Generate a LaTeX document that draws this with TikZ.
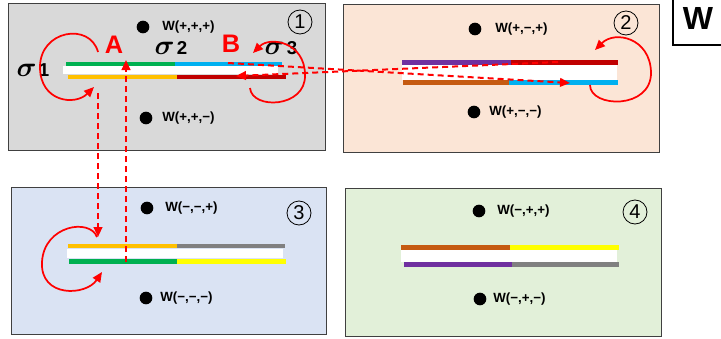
\documentclass[tikz,border=0pt]{standalone}
\usepackage{amsmath,amssymb}
\usepackage{fontspec}
\setmainfont{Liberation Sans}
\usepackage{tikz}
\usetikzlibrary{arrows.meta}
\usepackage{xcolor}
\definecolor{pnlone}{HTML}{D9D9D9}
\definecolor{pnltwo}{HTML}{FBE5D6}
\definecolor{pnlthree}{HTML}{DAE3F3}
\definecolor{pnlfour}{HTML}{E2F0D9}
\definecolor{bgreen}{HTML}{00B050}
\definecolor{bblue}{HTML}{00B0F0}
\definecolor{bgold}{HTML}{FFC000}
\definecolor{bdred}{HTML}{C00000}
\definecolor{bpurple}{HTML}{7030A0}
\definecolor{bbrown}{HTML}{C55A11}
\definecolor{bgray}{HTML}{808080}
\definecolor{byellow}{HTML}{FFFF00}
\newcommand{\sigmark}[1]{{\fontsize{20}{20}\selectfont$\boldsymbol{\sigma}$}\,{\bfseries\fontsize{14}{14}\selectfont #1}}

\begin{document}
\begin{tikzpicture}[x=0.75pt,y=0.75pt,yscale=-1,
  panel/.style={draw={rgb,255:red,64;green,64;blue,64},line width=0.75pt},
  jump/.style={draw=red,line width=1.5pt,dash pattern={on 4.5pt off 3pt},-{Triangle[length=7.5pt,width=6.5pt]}},
  swirl/.style={draw=red,line width=1.3pt,-{Triangle[length=7.5pt,width=6.5pt]}},
  dot/.style={circle,fill=black,inner sep=0pt,minimum size=9.5pt},
  wlbl/.style={anchor=west,inner sep=0.75pt,font=\bfseries\fontsize{10}{11}\selectfont},
  num/.style={circle,draw,line width=0.6pt,inner sep=0pt,minimum size=18pt,font=\fontsize{15}{15}\selectfont},
  ab/.style={inner sep=0.75pt,text=red,font=\bfseries\fontsize{19}{19}\selectfont}]
\useasboundingbox (0,0) rectangle (721,339);

%Shape: Rectangle
\draw [panel,fill=pnlone] (8,3) rectangle (325,150);
\draw [panel,fill=pnltwo] (343,4) rectangle (659,152);
\draw [panel,fill=pnlthree] (11,187) rectangle (326,334);
\draw [panel,fill=pnlfour] (345,188) rectangle (661,336);

%Straight Lines
\draw [line width=1.5pt] (673,0) -- (673,45) -- (721,45);
% Text Node
\draw (698,18) node (wtag) [inner sep=0.75pt] [font=\bfseries\fontsize{24}{24}\selectfont] {W};

%Shape: Bars 1
\fill [white] (63,66) rectangle (278,74);
\fill [bgreen] (66,62) rectangle (175,66);
\fill [bblue] (175,62) rectangle (282,66);
\fill [bgold] (68,75) rectangle (177,79);
\fill [bdred] (177,75) rectangle (286,79);
%Shape: Bars 2
\fill [white] (402,65) rectangle (617,80);
\fill [bpurple] (402,60) rectangle (511,65);
\fill [bdred] (511,60) rectangle (618,65);
\fill [bbrown] (403,80) rectangle (509,85);
\fill [bblue] (509,80) rectangle (618,85);
%Shape: Bars 3
\fill [white] (67,249) rectangle (283,258);
\fill [bgold] (68,244) rectangle (177,248);
\fill [bgray] (177,244) rectangle (285,248);
\fill [bgreen] (69,259) rectangle (177,264);
\fill [byellow] (177,259) rectangle (286,264);
%Shape: Bars 4
\fill [white] (401,250) rectangle (617,262);
\fill [bbrown] (401,245) rectangle (510,250);
\fill [byellow] (510,245) rectangle (619,250);
\fill [bpurple] (404,262) rectangle (512,267);
\fill [bgray] (512,262) rectangle (619,267);

%Shape: Circle
\node (d1a) [dot] at (143,27) {};
\node (d1b) [dot] at (146,118) {};
\node (d2a) [dot] at (475,29) {};
\node (d2b) [dot] at (474,112) {};
\node (d3a) [dot] at (147,208) {};
\node (d3b) [dot] at (146,298) {};
\node (d4a) [dot] at (479,211) {};
\node (d4b) [dot] at (480,299) {};

% Text Node
\draw (161,27) node (w1a) [wlbl] {W(+,+,+)};
\draw (161,118) node (w1b) [wlbl] {W(+,+,−)};
\draw (494,29) node (w2a) [wlbl] {W(+,−,+)};
\draw (488,112) node (w2b) [wlbl] {W(+,−,−)};
\draw (164,208) node (w3a) [wlbl] {W(−,−,+)};
\draw (159,298) node (w3b) [wlbl] {W(−,−,−)};
\draw (496,211) node (w4a) [wlbl] {W(−,+,+)};
\draw (492,299) node (w4b) [wlbl] {W(−,+,−)};

% Text Node
\draw (300,22) node (n1) [num] {1};
\draw (626,23) node (n2) [num] {2};
\draw (299,213) node (n3) [num] {3};
\draw (635,212) node (n4) [num] {4};

% Text Node
\draw (33,70) node (s1) [inner sep=0.75pt] {\sigmark{1}};
\draw (171,48) node (s2) [inner sep=0.75pt] {\sigmark{2}};
\draw (281,48) node (s3) [inner sep=0.75pt] {\sigmark{3}};
\draw (114,45) node (la) [ab] {A};
\draw (231,44) node (lb) [ab] {B};

%Curve Lines
\coordinate (c1s) at (98,52);
\coordinate (c1e) at (94,87);
\draw [swirl] (c1s) .. controls (90,22) and (40,30) .. (40,67) .. controls (40,102) and (75,106) .. (c1e);
\coordinate (c3s) at (250,88);
\coordinate (c3e) at (253,53);
\draw [swirl] (c3s) .. controls (252,110) and (306,108) .. (305,75) .. controls (305,42) and (270,36) .. (c3e);
\coordinate (c2s) at (590,85);
\coordinate (c2e) at (595,50);
\draw [swirl] (c2s) .. controls (590,108) and (652,110) .. (651,72) .. controls (650,38) and (615,30) .. (c2e);
\coordinate (c4s) at (97,237);
\coordinate (c4e) at (102,272);
\draw [swirl] (c4s) .. controls (90,218) and (44,225) .. (42,262) .. controls (40,298) and (86,296) .. (c4e);

%Straight Lines
\coordinate (aTail) at (126,262);
\coordinate (aHead) at (126,60);
\draw [jump] (aTail) -- (aHead);
\coordinate (dTail) at (98,93);
\coordinate (dHead) at (98,237);
\draw [jump] (dTail) -- (dHead);
\coordinate (rTail) at (228,63);
\coordinate (rHead) at (570,83);
\draw [jump] (rTail) -- (rHead);
\coordinate (lTail) at (558,62);
\coordinate (lHead) at (236,76);
\draw [jump] (lTail) -- (lHead);

\end{tikzpicture}
\end{document}
